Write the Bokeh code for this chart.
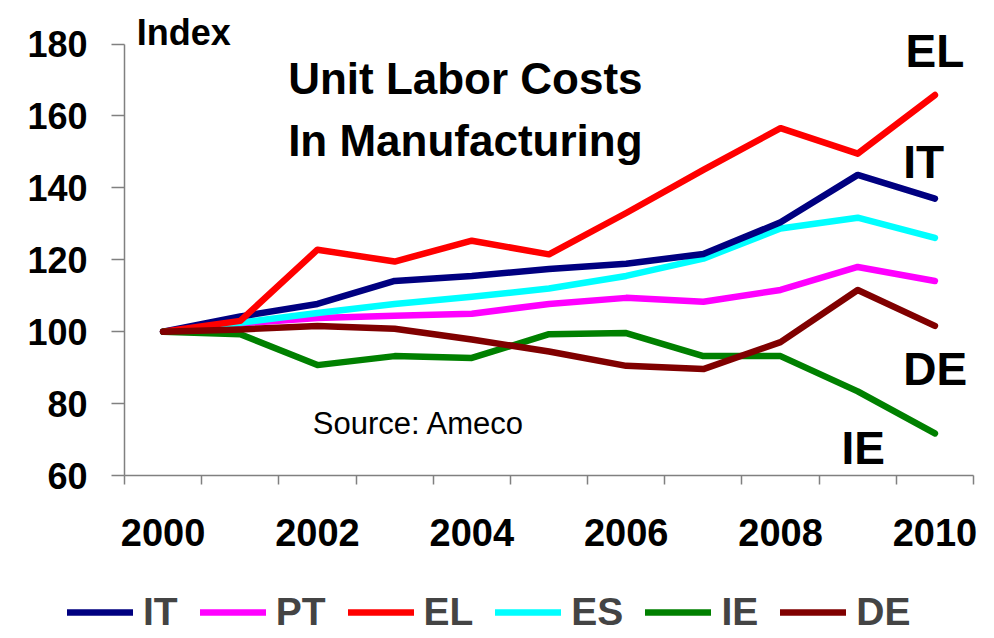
from bokeh.plotting import figure
from bokeh.models import (Range1d, FixedTicker, Legend, LegendItem, Label)
from bokeh.embed import file_html
from bokeh.resources import INLINE

years = [2000, 2001, 2002, 2003, 2004, 2005, 2006, 2007, 2008, 2009, 2010]
IT = [100, 104.2, 107.7, 114.1, 115.5, 117.4, 118.9, 121.6, 130.4, 143.6, 137.0]
PT = [100, 102.3, 103.8, 104.4, 105.0, 107.7, 109.4, 108.3, 111.6, 118.0, 114.1]
EL = [100, 103.0, 122.8, 119.5, 125.3, 121.5, 133.0, 145.0, 156.6, 149.5, 165.8]
ES = [100, 102.5, 105.2, 107.7, 109.7, 112.0, 115.5, 120.3, 128.7, 131.7, 126.1]
IE = [100, 99.3, 90.7, 93.2, 92.7, 99.3, 99.6, 93.2, 93.2, 83.4, 71.7]
DE = [100, 100.6, 101.6, 100.8, 97.8, 94.5, 90.5, 89.6, 97.1, 111.6, 101.6]

series_names = ["IT", "PT", "EL", "ES", "IE", "DE"]
series_vals = [IT, PT, EL, ES, IE, DE]
series_colors = ["#000080", "#FF00FF", "#FF0000", "#00FFFF", "#008000", "#800000"]
draw_order = ["PT", "ES", "IT", "EL", "IE", "DE"]

x_ticks = [2000, 2002, 2004, 2006, 2008, 2010]
y_ticks = [60, 80, 100, 120, 140, 160, 180]

FONT = "Liberation Sans"

# frame fills the whole canvas; axes are drawn at fixed data locations
W, H = 986, 634
px_per_year = 849 / 11.0
px_per_unit = 431.5 / 120.0
x0 = 1999.5 - 124 / px_per_year
x1 = 1999.5 + (W - 124) / px_per_year
y1 = 180 + 43.5 / px_per_unit
y0 = 60 - (H - 475) / px_per_unit

p = figure(width=W, height=H, output_backend="svg", toolbar_location=None,
           title=None,
           x_range=Range1d(x0, x1), y_range=Range1d(y0, y1),
           min_border_left=0, min_border_right=0, min_border_top=0,
           min_border_bottom=0)
p.outline_line_color = None
p.grid.visible = False
p.background_fill_color = "white"
p.border_fill_color = "white"

# x axis
xa = p.xaxis[0]
xa.fixed_location = 60
xa.bounds = (1999.5, 2010.5)
xa.ticker = FixedTicker(ticks=x_ticks, minor_ticks=[y - 0.5 for y in years] + [2010.5])
xa.major_tick_out = 0
xa.major_tick_in = 0
xa.minor_tick_out = 9
xa.minor_tick_in = 0
xa.minor_tick_line_color = "#808080"
xa.minor_tick_line_width = 1.5
xa.axis_line_color = "#808080"
xa.axis_line_width = 1.5
xa.major_label_text_font = FONT
xa.major_label_text_font_style = "bold"
xa.major_label_text_font_size = "38px"
xa.major_label_text_color = "black"
xa.major_label_standoff = 34

# y axis
ya = p.yaxis[0]
ya.fixed_location = 1999.5
ya.bounds = (60, 180)
ya.ticker = FixedTicker(ticks=y_ticks)
ya.minor_tick_out = 0
ya.minor_tick_in = 0
ya.major_tick_out = 13
ya.major_tick_in = 0
ya.major_tick_line_color = "#808080"
ya.major_tick_line_width = 1.5
ya.axis_line_color = "#808080"
ya.axis_line_width = 1.5
ya.major_label_text_font = FONT
ya.major_label_text_font_style = "bold"
ya.major_label_text_font_size = "36px"
ya.major_label_text_color = "black"
ya.major_label_standoff = 24

renderers = {}
for name in draw_order:
    i = series_names.index(name)
    r = p.line(years, series_vals[i], line_color=series_colors[i], line_width=6.5,
               line_cap="round", line_join="round")
    renderers[name] = r

legend = Legend(items=[LegendItem(label=n, renderers=[renderers[n]]) for n in series_names],
                orientation="horizontal", location=(67, 0),
                glyph_width=66, glyph_height=40, label_height=40,
                label_standoff=10, spacing=22, padding=0, margin=0,
                label_text_font=FONT, label_text_font_style="bold",
                label_text_font_size="39px", border_line_color=None,
                background_fill_alpha=0)
p.add_layout(legend, "center")

def add_label(text, x, y, size_px, bold=True):
    # shift so that the glyph baseline lands where the reference shows it
    y_adj = y + 0.31 * size_px / px_per_unit
    p.add_layout(Label(x=x, y=y_adj, text=text, text_font=FONT,
                       text_font_style="bold" if bold else "normal",
                       text_font_size=f"{size_px}px", text_color="black",
                       text_baseline="alphabetic", text_align="left"))

add_label("Index", 1999.66, 180.2, 36)
add_label("Unit Labor Costs", 2001.62, 166.5, 44)
add_label("In Manufacturing", 2001.62, 149.5, 44)
add_label("Source: Ameco", 2001.94, 71.7, 31, bold=False)
add_label("EL", 2009.62, 174.0, 46)
add_label("IT", 2009.59, 143.2, 46)
add_label("DE", 2009.59, 85.6, 46)
add_label("IE", 2008.79, 63.6, 46)

open("out.html", "w").write(file_html(p, INLINE))
